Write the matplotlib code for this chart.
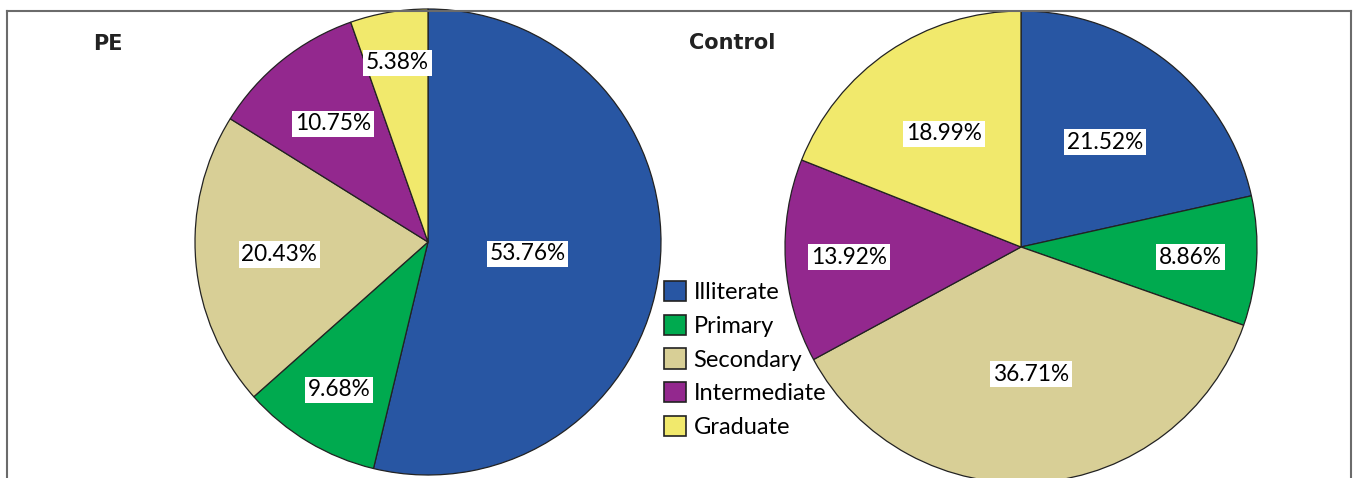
import matplotlib.pyplot as plt
import numpy as np
from matplotlib.patches import Patch
from matplotlib.lines import Line2D

# education level categories and shares (%)
categories = ['Illiterate', 'Primary', 'Secondary', 'Intermediate', 'Graduate']
pe_values = [53.76, 9.68, 20.43, 10.75, 5.38]
control_values = [21.52, 8.86, 36.71, 13.92, 18.99]
colors = ['#2856A3', '#00AA4F', '#D8CF96', '#93288E', '#F1E96C']

# where SPSS put the percentage boxes (fraction of radius)
pe_label_r = [0.43, 0.74, 0.64, 0.65, 0.78]
control_label_r = [0.57, 0.72, 0.54, 0.73, 0.58]

W, H = 1353, 478
fig = plt.figure(figsize=(W / 100, H / 100), dpi=100)
ax = fig.add_axes([0, 0, 1, 1])

txt_font = ['Lato', 'DejaVu Sans']


def draw_pie(values, center, radius, label_r):
    wedges, _ = ax.pie(values, colors=colors, startangle=90, counterclock=False,
                       center=center, radius=radius,
                       wedgeprops=dict(edgecolor='#222222', linewidth=0.9))
    for w, v, r in zip(wedges, values, label_r):
        ang = np.deg2rad((w.theta1 + w.theta2) / 2)
        x = center[0] + r * radius * np.cos(ang)
        y = center[1] + r * radius * np.sin(ang)
        ax.text(x, y, '%.2f%%' % v, ha='center', va='center', fontsize=16.3,
                family=txt_font, color='black',
                bbox=dict(boxstyle='square,pad=0.12', fc='white', ec='none'))


draw_pie(pe_values, (428, H - 242), 233, pe_label_r)
draw_pie(control_values, (1021, H - 247), 236, control_label_r)

ax.set_xlim(0, W)
ax.set_ylim(0, H)
ax.set_aspect('equal')
ax.axis('off')

# titles
fig.text(93 / W, 1 - 44 / H, 'PE', fontsize=15, fontweight='bold',
         family=['DejaVu Sans'], va='center', color='#222222')
fig.text(689 / W, 1 - 43 / H, 'Control', fontsize=15, fontweight='bold',
         family=['DejaVu Sans'], va='center', color='#222222')

# frame around the panel (bottom cut off)
fx0, fx1, fy0 = 7 / W, 1351 / W, 1 - 11 / H
for xs, ys in [([fx0, fx0], [0, fy0]), ([fx0, fx1], [fy0, fy0]), ([fx1, fx1], [fy0, 0])]:
    fig.add_artist(Line2D(xs, ys, color='#6b6b6b', linewidth=1.5, transform=fig.transFigure))

handles = [Patch(facecolor=c, edgecolor='#222222', linewidth=1.2) for c in colors]
leg = fig.legend(handles, categories, loc='upper left',
                 bbox_to_anchor=(664 / W, 1 - 281 / H), frameon=False,
                 prop=dict(family=txt_font, size=17),
                 handlelength=0.95, handleheight=0.95, handletextpad=0.3,
                 labelspacing=0.48, borderpad=0, borderaxespad=0)

fig.savefig('out.png', dpi=100)
